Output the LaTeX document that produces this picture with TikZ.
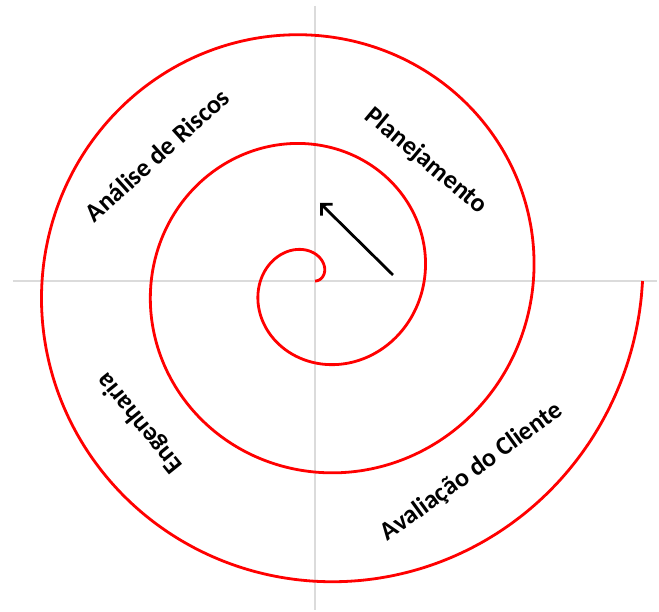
\documentclass[tikz,border=0pt]{standalone}
\usepackage{fontspec}
\setmainfont{Carlito}
\usetikzlibrary{arrows.meta}

\begin{document}
\begin{tikzpicture}[x=1pt, y=1pt,
  axis/.style={draw=gray!28, line width=1.6pt},
  spiral/.style={draw=red, line width=2.8pt},
  pointer/.style={draw=black, line width=2.8pt, -{Straight Barb[length=8pt, width=16pt]}},
  phase/.style={font=\fontsize{26}{30}\selectfont\bfseries, inner sep=0pt}]
\useasboundingbox (-315,-331) rectangle (344,281);
\coordinate (top) at (0,275);
\coordinate (bottom) at (0,-329);
\coordinate (left) at (-302,0);
\coordinate (right) at (342,0);
\draw[axis] (top) -- (bottom);
\draw[axis] (left) -- (right);
\draw[spiral] plot[domain=0:1080, samples=360, smooth] (\x:{0.3033*\x});
\coordinate (tail) at (78,6);
\coordinate (head) at (5,78);
\draw[pointer] (tail) -- (head);
\node[phase, rotate=-40] (plan) at (111,120) {Planejamento};
\node[phase, rotate=42] (risk) at (-158,126) {Análise de Riscos};
\node[phase, rotate=129] (eng) at (-175,-142) {Engenharia};
\node[phase, rotate=36] (eval) at (157,-191) {Avaliação do Cliente};
\end{tikzpicture}
\end{document}
